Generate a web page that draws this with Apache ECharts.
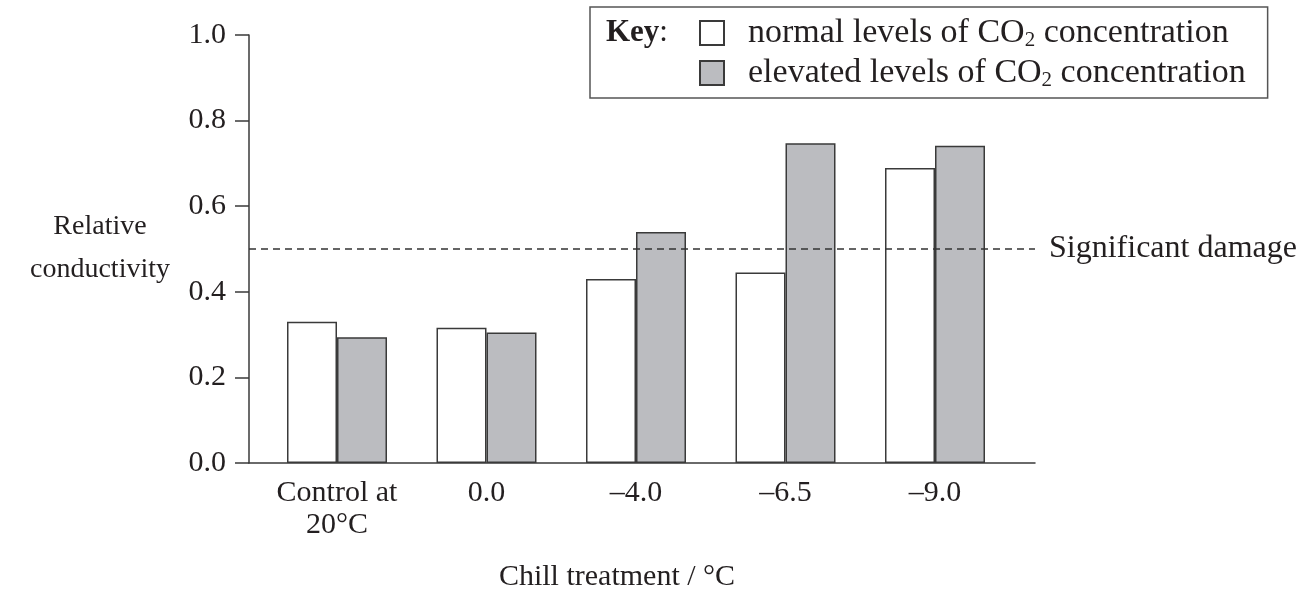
<!DOCTYPE html>
<html><head><meta charset="utf-8">
<script src="https://cdn.jsdelivr.net/npm/echarts@6/dist/echarts.min.js"></script>
<style>html,body{margin:0;padding:0;background:#fff}#c{width:1309px;height:589px}</style>
</head><body><div id="c"></div>
<script>
const categories = ['Control at\n20°C', '0.0', '–4.0', '–6.5', '–9.0'];
const normalCO2 = [0.330, 0.316, 0.430, 0.445, 0.689];
const elevatedCO2 = [0.294, 0.305, 0.540, 0.747, 0.741];
const yTicks = [0.0, 0.2, 0.4, 0.6, 0.8, 1.0];
const damageThreshold = 0.5;
const damageLabel = 'Significant damage';
const seriesNames = ['normal levels of CO2 concentration', 'elevated levels of CO2 concentration'];
const legendLabels = {
  'normal levels of CO2 concentration': '{m|normal levels of CO}{sub|2}{m| concentration}',
  'elevated levels of CO2 concentration': '{m|elevated levels of CO}{sub|2}{m| concentration}'
};

const FONT = '"Liberation Serif", "Times New Roman", serif';
const INK = '#231f20';
const LINE = '#3a3a3a';
const FS = 30;

const yMin = yTicks[0], yMax = yTicks[yTicks.length - 1], yStep = yTicks[1] - yTicks[0];

const chart = echarts.init(document.getElementById('c'), null, {renderer: 'canvas'});
chart.setOption({
  animation: false,
  backgroundColor: '#fff',
  textStyle: {fontFamily: FONT, color: INK},
  grid: [
    {left: 249, right: 274, top: 35, bottom: 126, containLabel: false},
    {left: 262.25, width: 747.5, top: 35, bottom: 126, containLabel: false}
  ],
  xAxis: [
    {gridIndex: 0, type: 'value', min: 0, max: 1, axisLine: {show: true, onZero: false, lineStyle: {color: LINE, width: 1.5}},
     axisTick: {show: false}, axisLabel: {show: false}, splitLine: {show: false}},
    {gridIndex: 1, type: 'category', data: categories, boundaryGap: true,
     axisLine: {show: false}, axisTick: {show: false}, splitLine: {show: false},
     axisLabel: {show: true, interval: 0, margin: 14, fontSize: FS, lineHeight: 32, color: INK, fontFamily: FONT, align: 'center'}}
  ],
  yAxis: [
    {gridIndex: 0, type: 'value', min: yMin, max: yMax, interval: yStep,
     axisLine: {show: true, lineStyle: {color: LINE, width: 1.5}},
     axisTick: {show: true, inside: false, length: 14, lineStyle: {color: LINE, width: 1.5}},
     axisLabel: {show: true, margin: 23, fontSize: FS, color: INK, fontFamily: FONT, formatter: v => v.toFixed(1)},
     splitLine: {show: false}},
    {gridIndex: 1, type: 'value', min: yMin, max: yMax, show: false, splitLine: {show: false}}
  ],
  legend: {
    orient: 'vertical', left: 590, top: 7,
    padding: [8, 22, 7, 109],
    borderColor: '#555', borderWidth: 1.5,
    itemWidth: 24, itemHeight: 24, itemGap: 4,
    icon: 'rect',
    data: seriesNames,
    formatter: name => legendLabels[name],
    textStyle: {fontSize: 34, lineHeight: 36, fontFamily: FONT, color: INK, padding: [0, 0, 0, 19],
      rich: {
        m: {fontSize: 34, lineHeight: 36, fontFamily: FONT, color: INK, verticalAlign: 'middle'},
        sub: {fontSize: 21, lineHeight: 10, fontFamily: FONT, color: INK, verticalAlign: 'bottom'}
      }}
  },
  graphic: [
    {type: 'text', x: 606, y: 33, style: {text: '{b|Key}:', fontSize: 31, fontFamily: FONT, fill: INK,
      align: 'left', verticalAlign: 'middle', rich: {b: {fontSize: 31, fontWeight: 'bold', fontFamily: FONT, fill: INK}}}},
    {type: 'text', x: 100, y: 248, style: {text: 'Relative\nconductivity', fontSize: 28, lineHeight: 43, fontFamily: FONT, fill: INK,
      align: 'center', verticalAlign: 'middle'}},
    {type: 'text', x: 617, y: 577, style: {text: 'Chill treatment / °C', fontSize: FS, fontFamily: FONT, fill: INK,
      align: 'center', verticalAlign: 'middle'}}
  ],
  series: [
    {type: 'line', xAxisIndex: 0, yAxisIndex: 0, data: [[0, damageThreshold], [1, damageThreshold]],
     symbol: 'none', silent: true, lineStyle: {color: '#333', width: 1.3, type: [7, 5]},
     endLabel: {show: true, formatter: damageLabel, distance: 14, fontSize: 32, fontFamily: FONT, color: INK}},
    {name: seriesNames[0], type: 'bar', xAxisIndex: 1, yAxisIndex: 1, data: normalCO2,
     barWidth: 50, barGap: '0%',
     itemStyle: {color: '#ffffff', borderColor: LINE, borderWidth: 1.5}},
    {name: seriesNames[1], type: 'bar', xAxisIndex: 1, yAxisIndex: 1, data: elevatedCO2,
     barWidth: 50, barGap: '0%',
     itemStyle: {color: '#bbbcc0', borderColor: LINE, borderWidth: 1.5}}
  ]
});
</script></body></html>
